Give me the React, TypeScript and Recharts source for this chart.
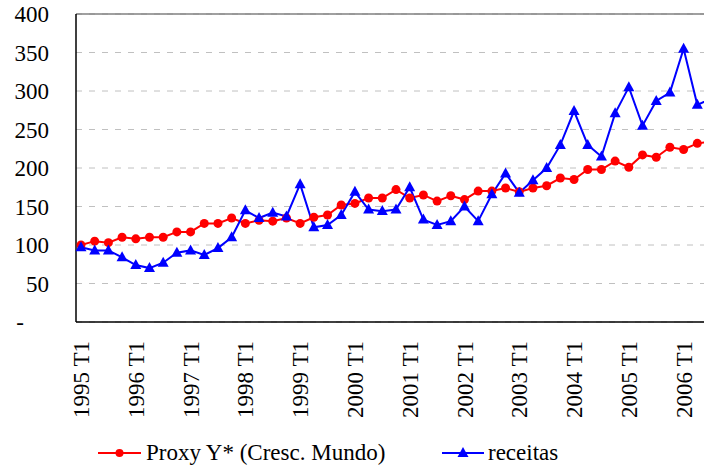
import {
  LineChart,
  Line,
  XAxis,
  YAxis,
  CartesianGrid,
  ReferenceLine,
} from "recharts";

// quarterly series, 1995 T1 .. 2006 T3 (chart is cropped on the right)
const quarters = [
  "1995 T1", "1995 T2", "1995 T3", "1995 T4",
  "1996 T1", "1996 T2", "1996 T3", "1996 T4",
  "1997 T1", "1997 T2", "1997 T3", "1997 T4",
  "1998 T1", "1998 T2", "1998 T3", "1998 T4",
  "1999 T1", "1999 T2", "1999 T3", "1999 T4",
  "2000 T1", "2000 T2", "2000 T3", "2000 T4",
  "2001 T1", "2001 T2", "2001 T3", "2001 T4",
  "2002 T1", "2002 T2", "2002 T3", "2002 T4",
  "2003 T1", "2003 T2", "2003 T3", "2003 T4",
  "2004 T1", "2004 T2", "2004 T3", "2004 T4",
  "2005 T1", "2005 T2", "2005 T3", "2005 T4",
  "2006 T1", "2006 T2", "2006 T3",
];

const proxyMundo = [
  100, 105, 103, 110, 108, 110, 110, 117, 117, 128, 128, 135,
  128, 132, 131, 135, 128, 136, 139, 152, 154, 161, 161, 172,
  161, 165, 157, 164, 159, 170, 170, 174, 169, 174, 177, 187,
  185, 198, 198, 209, 201, 217, 214, 227, 224, 232, 234,
];

const receitas = [
  97, 93, 93, 84, 74, 70, 77, 90, 93, 87, 96, 110,
  145, 135, 142, 137, 179, 123, 126, 139, 169, 146, 144, 146,
  175, 133, 126, 131, 150, 131, 166, 193, 168, 184, 200, 230,
  274, 230, 215, 271, 305, 255, 287, 298, 355, 282, 290,
];

const yTicks = [0, 50, 100, 150, 200, 250, 300, 350, 400];

const LEGEND_PROXY = "Proxy Y* (Cresc. Mundo)";
const LEGEND_RECEITAS = "receitas";

const FONT =
  "'Times New Roman', Times, 'Liberation Serif', 'Nimbus Roman', 'DejaVu Serif', 'Noto Serif', FreeSerif, serif";
const textStyle = { fontFamily: FONT, fontSize: 23 };
const RED = "#ff0000";
const BLUE = "#0000ff";

const data = quarters.map((q, i) => ({
  q,
  proxy: proxyMundo[i],
  receitas: receitas[i],
}));

const YTick = ({ x, y, payload }: any) => {
  const zero = payload.value === 0;
  return (
    <text
      x={zero ? x - 25 : x}
      y={y}
      dy="0.35em"
      textAnchor="end"
      style={textStyle}
      fill="#000"
    >
      {zero ? "-" : payload.value}
    </text>
  );
};

const XTick = ({ x, y, payload }: any) => (
  <text
    x={x}
    y={y}
    dy="0.35em"
    transform={`rotate(-90, ${x}, ${y})`}
    textAnchor="end"
    style={textStyle}
    fill="#000"
  >
    {payload.value}
  </text>
);

const triPath = (cx: number, cy: number) =>
  `M${cx},${cy - 6} L${cx + 5.5},${cy + 4} L${cx - 5.5},${cy + 4} Z`;

const Triangle = ({ cx, cy }: any) => {
  if (cx == null || cy == null) return null;
  return <path d={triPath(cx, cy)} fill={BLUE} />;
};

export default function App() {
  return (
    <div
      style={{
        position: "absolute",
        left: 0,
        top: 0,
        width: 704,
        height: 470,
        overflow: "hidden",
        background: "#fff",
        fontFamily: FONT,
      }}
    >
      <LineChart
        width={716}
        height={470}
        data={data}
        margin={{ top: 14, right: 0, bottom: 0, left: 0 }}
      >
        <CartesianGrid
          vertical={false}
          stroke="#c0c0c0"
          strokeDasharray="6 7"
        />
        <ReferenceLine y={400} stroke="#808080" strokeWidth={1.5} />
        <XAxis
          dataKey="q"
          interval={3}
          height={148}
          padding={{ left: 5, right: 5 }}
          tickLine={false}
          tickSize={0}
          tickMargin={19}
          axisLine={{ stroke: "#000", strokeWidth: 1.5 }}
          tick={<XTick />}
        />
        <YAxis
          width={76}
          domain={[0, 400]}
          ticks={yTicks}
          tickLine={false}
          tickSize={0}
          tickMargin={27}
          axisLine={{ stroke: "#000", strokeWidth: 1.5 }}
          tick={<YTick />}
        />
        <Line
          dataKey="proxy"
          stroke={RED}
          strokeWidth={2}
          dot={{ r: 4.5, fill: RED, stroke: RED, strokeWidth: 0 }}
          isAnimationActive={false}
        />
        <Line
          dataKey="receitas"
          stroke={BLUE}
          strokeWidth={2}
          dot={<Triangle />}
          isAnimationActive={false}
        />
      </LineChart>
      <svg
        width={704}
        height={470}
        style={{ position: "absolute", left: 0, top: 0, pointerEvents: "none" }}
      >
        <line x1={98} x2={141} y1={453} y2={453} stroke={RED} strokeWidth={2} />
        <circle cx={119.5} cy={453} r={4} fill={RED} />
        <text x={146} y={460} style={textStyle} fill="#000">
          {LEGEND_PROXY}
        </text>
        <line x1={442} x2={484} y1={453} y2={453} stroke={BLUE} strokeWidth={2} />
        <path d={triPath(463, 453)} fill={BLUE} />
        <text x={488} y={460} style={textStyle} fill="#000">
          {LEGEND_RECEITAS}
        </text>
      </svg>
    </div>
  );
}
